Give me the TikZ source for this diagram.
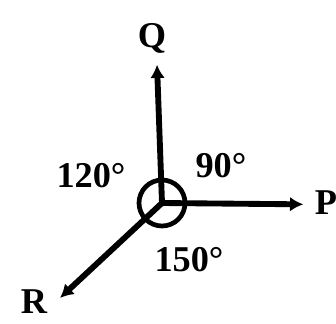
\documentclass[tikz,border=0pt]{standalone}
\usepackage{fontspec}
\setmainfont{Liberation Serif}
\usepackage{tikz}
\usetikzlibrary{arrows.meta}

\begin{document}
\begin{tikzpicture}[
    force/.style={line width=5pt, -{Latex[length=4mm, width=4.4mm]}},
    pointname/.style={font=\fontsize{31}{34}\selectfont\bfseries},
    anglelabel/.style={font=\fontsize{31}{34}\selectfont\bfseries}
]
\useasboundingbox (0,0) rectangle (10.08,9.69);

% Point of application
\coordinate (o) at (4.86,3.6);

% Arrow ends
\coordinate (qtip) at (4.71,7.75);
\coordinate (ptip) at (9.1,3.56);
\coordinate (rtip) at (1.8,0.75);

% Labels of the forces
\node[pointname] (q) at (4.56,8.55) {Q};
\node[pointname] (p) at (9.78,3.6) {P};
\node[pointname] (r) at (1.02,0.63) {R};

% Forces
\draw[force] (o) -- (qtip);
\draw[force] (o) -- (ptip);
\draw[force] (o) -- (rtip);

% Circle round the point
\draw[line width=4pt] (o) circle (0.69);

% Angles
\node[anglelabel] (a120) at (2.73,4.41) {120°};
\node[anglelabel] (a90) at (6.63,4.71) {90°};
\node[anglelabel] (a150) at (5.67,1.89) {150°};

\end{tikzpicture}
\end{document}
